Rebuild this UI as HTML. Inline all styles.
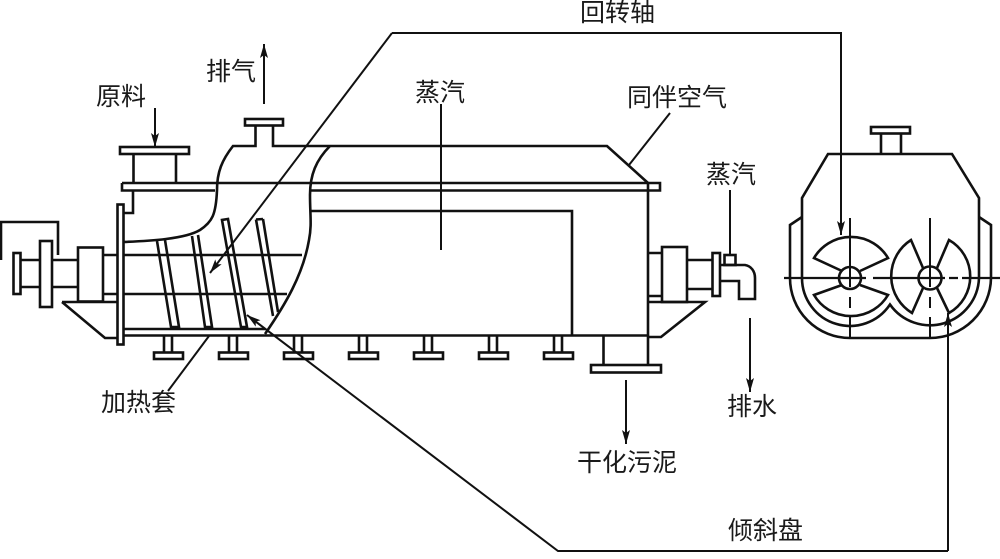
<!DOCTYPE html>
<html><head><meta charset="utf-8">
<style>
html,body{margin:0;padding:0;background:#fff;width:1000px;height:559px;overflow:hidden}
svg{display:block}
text{font-family:"Liberation Sans","Noto Sans CJK SC",sans-serif;font-size:25px;fill:#1a1a1a;font-weight:400}
</style></head><body>
<svg width="1000" height="559" viewBox="0 0 1000 559" xmlns="http://www.w3.org/2000/svg">
<defs>
<marker id="a" viewBox="0 0 14 8" markerWidth="14" markerHeight="8" refX="14" refY="4" orient="auto" markerUnits="userSpaceOnUse"><path d="M0 0L14 4L0 8L3 4Z" fill="#111"/></marker>
</defs>
<g fill="none" stroke="#111" stroke-width="2.6">
<!-- feed -->
<rect x="120" y="147" width="69" height="7"/>
<path d="M133.500 154V183M176 154V183"/>
<path d="M122 183H660V190.500H310M215 190.500H122V183"/>
<path d="M133 191V213H123"/>
<rect x="117.500" y="204.500" width="6" height="140"/>
<!-- exhaust -->
<rect x="245" y="119" width="38" height="6.500"/>
<path d="M255.500 125.500V146H233C222 160 217 172 217 190C216 215 212 222 200 230C185 239 150 241 123 242"/>
<path d="M273 125.500V146H607L648 183V365"/>
<path d="M330 146C316 160 310 175 310 195C310 215 312 225 309 240C303 275 285 305 265 334"/>
<path d="M310 211H572V335"/>
<path d="M123 255H302M123 294H287M123 329H265M123 335.500H648"/>
<!-- left drive -->
<path d="M103 255H117M103 294H117"/>
<rect x="78" y="247.500" width="25" height="54"/>
<path d="M62 302H117M62 302L105 338H117"/>
<path d="M53 260H78M53 287H78"/>
<rect x="40" y="241" width="12" height="66"/>
<path d="M20 260H40M20 287H40"/>
<rect x="13.500" y="253" width="7" height="41"/>
<path d="M1 260V222H58V255"/>
<!-- blades -->
<path d="M157 241L171 327H179L165 240"/>
<path d="M192 236L205 327H212L198 235"/>
<path d="M222 220L241 327H247L228 219Z"/>
<path d="M256 219.500L273 316M263 219L278 312M256 219.500L263 219"/>
<!-- feet -->
<g id="f"><path d="M164 336V352M172 336V352"/><rect x="154" y="352.500" width="29" height="6.500"/></g>
<use href="#f" x="65"/><use href="#f" x="130"/><use href="#f" x="195"/><use href="#f" x="260"/><use href="#f" x="325"/><use href="#f" x="390"/>
<!-- discharge -->
<path d="M603.500 335V365"/>
<rect x="591" y="365" width="70" height="7.500"/>
<!-- right drive -->
<path d="M648 253H662M648 296H662M648 302H705L661 337H648"/>
<rect x="662" y="247" width="25" height="55"/>
<path d="M687 260H712M687 289H712"/>
<rect x="712.500" y="253" width="7.500" height="43"/>
<rect x="724.500" y="255" width="11" height="10"/>
<path d="M720 265H745C751 266 755 271 755 278V299H739V281H720"/>
<!-- right figure -->
<rect x="871" y="127" width="39" height="6.500"/>
<path d="M881 133.500V154M901 133.500V154"/>
<path d="M802 279V198L828 154H952L979 198V279"/>
<path d="M802 278A48 48 0 0 0 890 304.500A49 49 0 0 0 979 278"/>
<path d="M802 217L790 225V278A60 60 0 0 0 850 338H930A61 61 0 0 0 991 278V225L979 217"/>
<circle cx="850" cy="278" r="11"/><circle cx="930" cy="278" r="11.500"/>
<path d="M842 271L814 258A43 43 0 0 1 888 258L860 271"/>
<path d="M842 285L814 295A43 43 0 0 0 888 295L860 285"/>
<path d="M923 268L911 240A43 43 0 0 0 912 313L923 288"/>
<path d="M937 268L949 240A42 42 0 0 1 949 313L937 288"/>
</g>
<g fill="none" stroke="#111" stroke-width="2">
<path d="M784 278H866M873 278H945M949 278H958M962 278H1000" stroke-width="2.200"/>
<path d="M850 218V287M850 297V308M850 317V338"/>
<path d="M930 218V287M930 297V308M930 317V338"/>
<path d="M155 108V147" marker-end="url(#a)"/>
<path d="M264 104V44" marker-end="url(#a)"/>
<path d="M441 104V250"/>
<path d="M670 113L629 165"/>
<path d="M730 190V255"/>
<path d="M209 336L168 391"/>
<path d="M750 318V392" marker-end="url(#a)"/>
<path d="M626 380V444" marker-end="url(#a)"/>
<path d="M392 33H841V235" marker-end="url(#a)"/>
<path d="M392 33L210 273" marker-end="url(#a)"/>
<path d="M948 551H558L247 315" marker-end="url(#a)"/>
<path d="M948 551V313" marker-end="url(#a)"/>
</g>
<text x="580" y="21">回转轴</text>
<text x="206" y="80">排气</text>
<text x="96" y="105">原料</text>
<text x="415" y="101">蒸汽</text>
<text x="627" y="106">同伴空气</text>
<text x="706" y="183">蒸汽</text>
<text x="101" y="411">加热套</text>
<text x="727" y="415">排水</text>
<text x="577" y="471">干化污泥</text>
<text x="728" y="539">倾斜盘</text>
</svg>
</body></html>
